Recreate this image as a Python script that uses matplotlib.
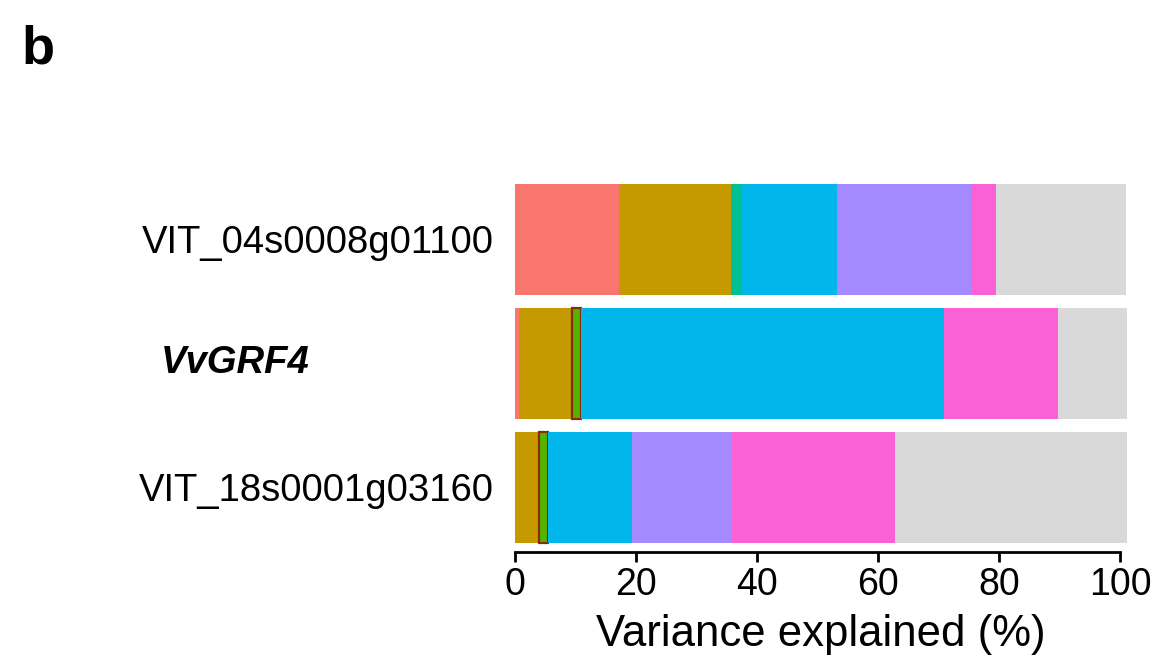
import numpy as np
import matplotlib
matplotlib.use('Agg')
import matplotlib.pyplot as plt
import matplotlib.transforms as mtransforms

plt.rcParams['font.family'] = ['Liberation Sans', 'DejaVu Sans']

genes = ['VIT_04s0008g01100', 'VvGRF4', 'VIT_18s0001g03160']   # top to bottom
components = ['c1', 'c2', 'c3', 'c4', 'c5', 'c6', 'c7', 'Residuals']

# variance explained (%) per component, one list per gene
c1 = [17.2, 0.7, 0.0]
c2 = [18.5, 8.7, 4.0]
c3 = [0.0, 1.5, 1.4]
c4 = [1.9, 0.0, 0.0]
c5 = [15.7, 60.0, 13.9]
c6 = [22.0, 0.0, 16.6]
c7 = [4.25, 18.8, 26.9]
resid = [21.4, 11.4, 38.3]

values = [c1, c2, c3, c4, c5, c6, c7, resid]
colors = ['#F8766D', '#C49A00', '#53B400', '#00C094', '#00B6EB', '#A58AFF', '#FB61D7', '#D9D9D9']

fig = plt.figure(figsize=(11.58, 6.58), dpi=100)
ax = fig.add_axes([515/1158, (658-551.7)/658, (1127.3-515)/1158, 374.2/658])

ypos = np.arange(len(genes))[::-1]
left = np.zeros(len(genes))
for comp, vals, col in zip(components, values, colors):
    vals = np.array(vals)
    for y, v, l in zip(ypos, vals, left):
        if v <= 0:
            continue
        if comp == 'c3':
            # highlighted component gets a dark outline
            ax.barh(y, v, left=l, height=0.9, color=col, edgecolor='#8B2A10', linewidth=1.6)
        else:
            ax.barh(y, v, left=l, height=0.9, color=col, linewidth=0)
    left += vals

ax.set_xlim(0, 101.2)
ax.set_ylim(-0.518, 2.5)
ax.set_xticks([0, 20, 40, 60, 80, 100])
ax.tick_params(axis='x', labelsize=27, length=7, width=2, pad=4)
ax.spines['bottom'].set_bounds(0, 100)
ax.spines['bottom'].set_linewidth(2)
for s in ['top', 'right', 'left']:
    ax.spines[s].set_visible(False)

ax.set_yticks(ypos)
ax.set_yticklabels([g if g != 'VvGRF4' else '' for g in genes], fontsize=27.5)
ax.tick_params(axis='y', length=0, pad=15)
trans = mtransforms.blended_transform_factory(ax.transAxes, ax.transData)
ax.text((161-515)/(1127.3-515), ypos[1], 'VvGRF4', transform=trans, fontsize=27.5,
        fontweight='bold', fontstyle='italic', ha='left', va='center')

ax.set_xlabel('Variance explained (%)', fontsize=31.5, labelpad=8)

fig.text(21/1158, 1-64/658, 'b', fontsize=39, fontweight='bold', ha='left', va='baseline')

fig.savefig('out.png', dpi=100)
